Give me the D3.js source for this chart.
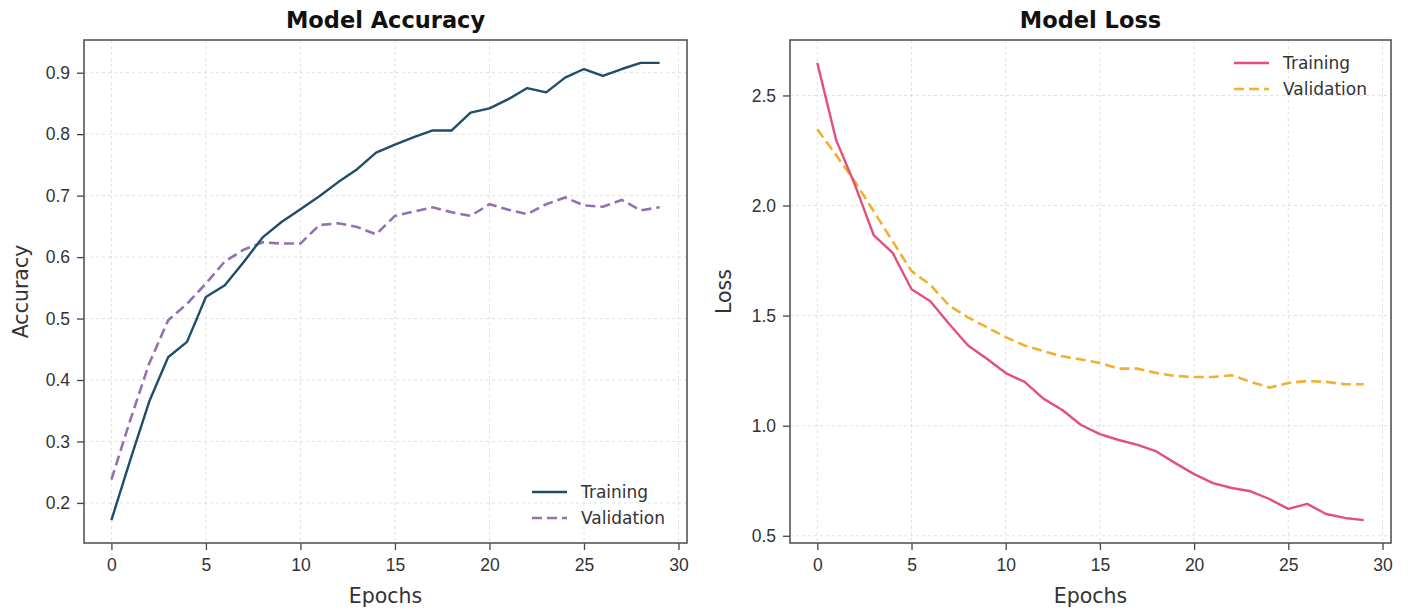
<!DOCTYPE html>
<html>
<head>
<meta charset="utf-8">
<script src="https://cdn.jsdelivr.net/npm/d3@7"></script>
<style>
  body { margin: 0; background: #fff; }
  svg { font-family: "DejaVu Sans", sans-serif; }
  .grid line { stroke: #d8d8d8; stroke-dasharray: 3,3; stroke-width: 0.8; }
  .axis path { display: none; }
  .axis line { stroke: #444; stroke-width: 1.3; }
  .axis text { font-size: 17.5px; fill: #333; }
  .frame { fill: none; stroke: #555; stroke-width: 1.6; }
</style>
</head>
<body>
<script>
// epochs 0..29
const epochs = d3.range(30);

const accTrain = [0.172, 0.27, 0.365, 0.437, 0.462, 0.535, 0.554, 0.592, 0.632, 0.657,
  0.678, 0.699, 0.722, 0.743, 0.770, 0.783, 0.795, 0.806, 0.806, 0.835,
  0.842, 0.857, 0.875, 0.868, 0.892, 0.906, 0.895, 0.906, 0.916, 0.916];
const accVal = [0.238, 0.335, 0.427, 0.497, 0.524, 0.557, 0.593, 0.612, 0.624, 0.622,
  0.622, 0.652, 0.655, 0.649, 0.637, 0.667, 0.674, 0.681, 0.673, 0.667,
  0.686, 0.677, 0.670, 0.686, 0.697, 0.684, 0.682, 0.693, 0.676, 0.681];

const lossTrain = [2.648, 2.297, 2.093, 1.864, 1.785, 1.620, 1.565, 1.462, 1.364, 1.304,
  1.239, 1.199, 1.123, 1.071, 1.003, 0.962, 0.935, 0.913, 0.883, 0.830,
  0.780, 0.739, 0.717, 0.702, 0.667, 0.622, 0.645, 0.599, 0.581, 0.571];
const lossVal = [2.346, 2.229, 2.108, 1.973, 1.837, 1.702, 1.640, 1.545, 1.492, 1.447,
  1.402, 1.364, 1.339, 1.315, 1.301, 1.285, 1.259, 1.259, 1.239, 1.226,
  1.221, 1.221, 1.229, 1.199, 1.173, 1.194, 1.203, 1.199, 1.188, 1.188];

const xTicks = [0, 5, 10, 15, 20, 25, 30];
const accTicks = [0.2, 0.3, 0.4, 0.5, 0.6, 0.7, 0.8, 0.9];
const lossTicks = [0.5, 1.0, 1.5, 2.0, 2.5];

const svg = d3.select("body").append("svg")
  .attr("width", 1408).attr("height", 611);

function drawPanel(opts) {
  const { left, right, top, bottom } = opts;
  const g = svg.append("g");

  // matplotlib style 5% margins
  const xPad = 29 * 0.05;
  const x = d3.scaleLinear().domain([-xPad, 29 + xPad]).range([left, right]);
  const all = opts.train.concat(opts.val);
  const ext = d3.extent(all);
  const yPad = (ext[1] - ext[0]) * 0.05;
  const y = d3.scaleLinear().domain([ext[0] - yPad, ext[1] + yPad]).range([bottom, top]);

  // grid
  const grid = g.append("g").attr("class", "grid");
  grid.selectAll(".vx").data(xTicks.filter(t => x(t) <= right)).enter().append("line")
    .attr("x1", d => x(d)).attr("x2", d => x(d)).attr("y1", top).attr("y2", bottom);
  grid.selectAll(".hy").data(opts.yTicks).enter().append("line")
    .attr("x1", left).attr("x2", right).attr("y1", d => y(d)).attr("y2", d => y(d));

  // axes
  g.append("g").attr("class", "axis")
    .attr("transform", "translate(0," + bottom + ")")
    .call(d3.axisBottom(x).tickValues(xTicks).tickSize(7).tickPadding(9).tickFormat(d3.format("d")));
  g.append("g").attr("class", "axis")
    .attr("transform", "translate(" + left + ",0)")
    .call(d3.axisLeft(y).tickValues(opts.yTicks).tickSize(7).tickPadding(7).tickFormat(d3.format(".1f")));

  const line = d3.line().x((d, i) => x(epochs[i])).y(d => y(d));

  g.append("path").datum(opts.val)
    .attr("fill", "none").attr("stroke", opts.valColor).attr("stroke-width", 2.6)
    .attr("stroke-dasharray", "10,5").attr("d", line);
  g.append("path").datum(opts.train)
    .attr("fill", "none").attr("stroke", opts.trainColor).attr("stroke-width", 2.4)
    .attr("stroke-linejoin", "round").attr("d", line);

  g.append("rect").attr("class", "frame")
    .attr("x", left).attr("y", top).attr("width", right - left).attr("height", bottom - top);

  // title + labels
  g.append("text").attr("x", (left + right) / 2).attr("y", 28)
    .attr("text-anchor", "middle").attr("font-size", 22.5).attr("font-weight", "bold")
    .attr("fill", "#111").text(opts.title);
  g.append("text").attr("x", (left + right) / 2).attr("y", 603)
    .attr("text-anchor", "middle").attr("font-size", 20.5).attr("fill", "#333").text("Epochs");
  g.append("text").attr("transform", "translate(" + opts.yLabelX + "," + (top + bottom) / 2 + ") rotate(-90)")
    .attr("text-anchor", "middle").attr("font-size", 20.5).attr("fill", "#333").text(opts.yLabel);

  // legend
  const leg = g.append("g").attr("transform", "translate(" + opts.legX + "," + opts.legY + ")");
  const items = [
    { name: "Training", color: opts.trainColor, dash: null, w: 2.4 },
    { name: "Validation", color: opts.valColor, dash: "10,5", w: 2.6 }
  ];
  items.forEach((it, i) => {
    leg.append("line").attr("x1", 0).attr("x2", 35).attr("y1", i * 26).attr("y2", i * 26)
      .attr("stroke", it.color).attr("stroke-width", it.w).attr("stroke-dasharray", it.dash);
    leg.append("text").attr("x", 49).attr("y", i * 26 + 6).attr("font-size", 17)
      .attr("fill", "#333").text(it.name);
  });
}

drawPanel({
  left: 84, right: 687, top: 40, bottom: 543,
  train: accTrain, val: accVal, yTicks: accTicks,
  trainColor: "#1f4d6a", valColor: "#9470b0",
  title: "Model Accuracy", yLabel: "Accuracy", yLabelX: 28,
  legX: 532, legY: 492
});

drawPanel({
  left: 790, right: 1391, top: 40, bottom: 543,
  train: lossTrain, val: lossVal, yTicks: lossTicks,
  trainColor: "#e2517c", valColor: "#f3b030",
  title: "Model Loss", yLabel: "Loss", yLabelX: 731,
  legX: 1234, legY: 63
});
</script>
</body>
</html>
